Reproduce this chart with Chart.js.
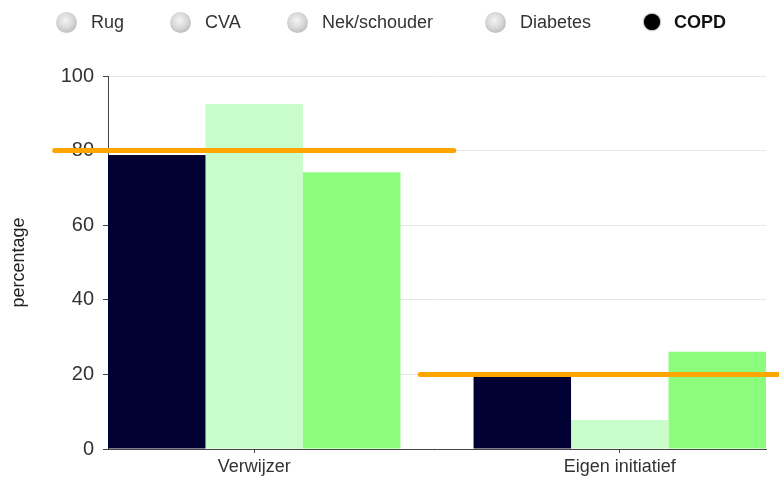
<!DOCTYPE html>
<html>
<head>
<meta charset="utf-8">
<script src="https://cdn.jsdelivr.net/npm/chart.js@4"></script>
<style>
  html, body { margin:0; padding:0; background:#fff; overflow:hidden; }
  #wrap { position:relative; width:779px; height:477px; }
  #chart { position:absolute; left:0; top:0; }
  #legend { position:absolute; left:0; top:0; width:779px; height:44px; font-family:"Liberation Sans", Arial, sans-serif; font-size:18px; color:#333; }
  .item { position:absolute; top:11px; display:flex; align-items:center; height:22px; }
  .dot { width:21px; height:21px; border-radius:50%; margin-right:14px;
         background:radial-gradient(circle at 45% 40%, #f4f4f4 0%, #d8d8d8 45%, #a8a8a8 100%); }
  .item.on .dot { width:16px; height:16px; margin:0 14px 0 2px; background:#000; box-shadow:0 0 2px #000; }
  .item.on span { font-weight:bold; color:#111; }
  .item:nth-child(1){ left:56px; }
  .item:nth-child(2){ left:170px; }
  .item:nth-child(3){ left:287px; }
  .item:nth-child(4){ left:485px; }
  .item:nth-child(5){ left:642px; }
</style>
</head>
<body>
<div id="wrap">
  <canvas id="chart" width="779" height="477"></canvas>
  <div id="legend"></div>
</div>
<script>
// chart data
const groups = ["Rug", "CVA", "Nek/schouder", "Diabetes", "COPD"];
const selectedGroup = "COPD";
const categories = ["Verwijzer", "Eigen initiatief"];
const seriesA = [78.8, 19.3];
const seriesB = [92.5, 7.8];
const seriesC = [74.2, 26.1];
const norms = [80, 20];
const yTicks = [0, 20, 40, 60, 80, 100];

function renderLegend(){
  const wrap = document.getElementById("legend");
  groups.forEach(g => {
    const div = document.createElement("div");
    div.className = "item" + (g === selectedGroup ? " on" : "");
    div.innerHTML = `<div class="dot"></div><span>${g}</span>`;
    wrap.appendChild(div);
  });
}

function toPoints(values){
  return values.map((v, i) => ({ x: i, y: v }));
}

// each norm is a line across its own category, a bit wider than the bar group
function normData(){
  const half = 0.546;
  const pts = [];
  norms.forEach((v, i) => {
    pts.push({ x: i - half, y: v });
    pts.push({ x: i + half, y: v });
    pts.push({ x: i + half, y: null });
  });
  return pts;
}

function buildChart(){
  const font = { family: "'Liberation Sans', Arial, sans-serif" };
  const ctx = document.getElementById("chart");
  new Chart(ctx, {
    data: {
      datasets: [
        { type: "line", data: normData(), borderColor: "#ffa500", borderWidth: 5,
          pointRadius: 0, clip: false, spanGaps: false, order: 0, borderCapStyle: "round" },
        { type: "bar", data: toPoints(seriesA), backgroundColor: "#000033", order: 1 },
        { type: "bar", data: toPoints(seriesB), backgroundColor: "#c8fcc8", order: 1 },
        { type: "bar", data: toPoints(seriesC), backgroundColor: "#8cfc7c", order: 1 }
      ]
    },
    options: {
      responsive: false,
      animation: false,
      layout: { padding: { top: 76, right: 13, left: 0, bottom: 0 } },
      datasets: { bar: { categoryPercentage: 0.8, barPercentage: 1 } },
      plugins: { legend: { display: false }, tooltip: { enabled: false } },
      scales: {
        x: {
          type: "linear",
          min: -0.4, max: 1.4,
          offset: false,
          afterBuildTicks: s => { s.ticks = categories.map((c, i) => ({ value: i })); },
          afterFit: s => { s.height = 28; },
          ticks: { callback: v => categories[v], color: "#333", padding: 3, autoSkip: false, maxRotation: 0,
                   font: { ...font, size: 18 } },
          grid: { offset: false, drawOnChartArea: false, tickLength: 4, tickColor: "#444" },
          border: { color: "#444", width: 1 }
        },
        y: {
          min: 0, max: 100,
          afterBuildTicks: s => { s.ticks = yTicks.map(v => ({ value: v })); },
          afterFit: s => { s.width = 108; },
          ticks: { color: "#333", padding: 9, font: { ...font, size: 20 } },
          grid: { color: "#e6e6e6", tickColor: "#444", tickLength: 5 },
          border: { color: "#444", width: 1 },
          title: { display: true, text: "percentage", color: "#222", padding: { top: 8 },
                   font: { ...font, size: 18 } }
        }
      }
    }
  });
}

document.addEventListener("DOMContentLoaded", () => {
  renderLegend();
  buildChart();
});
</script>
</body>
</html>
